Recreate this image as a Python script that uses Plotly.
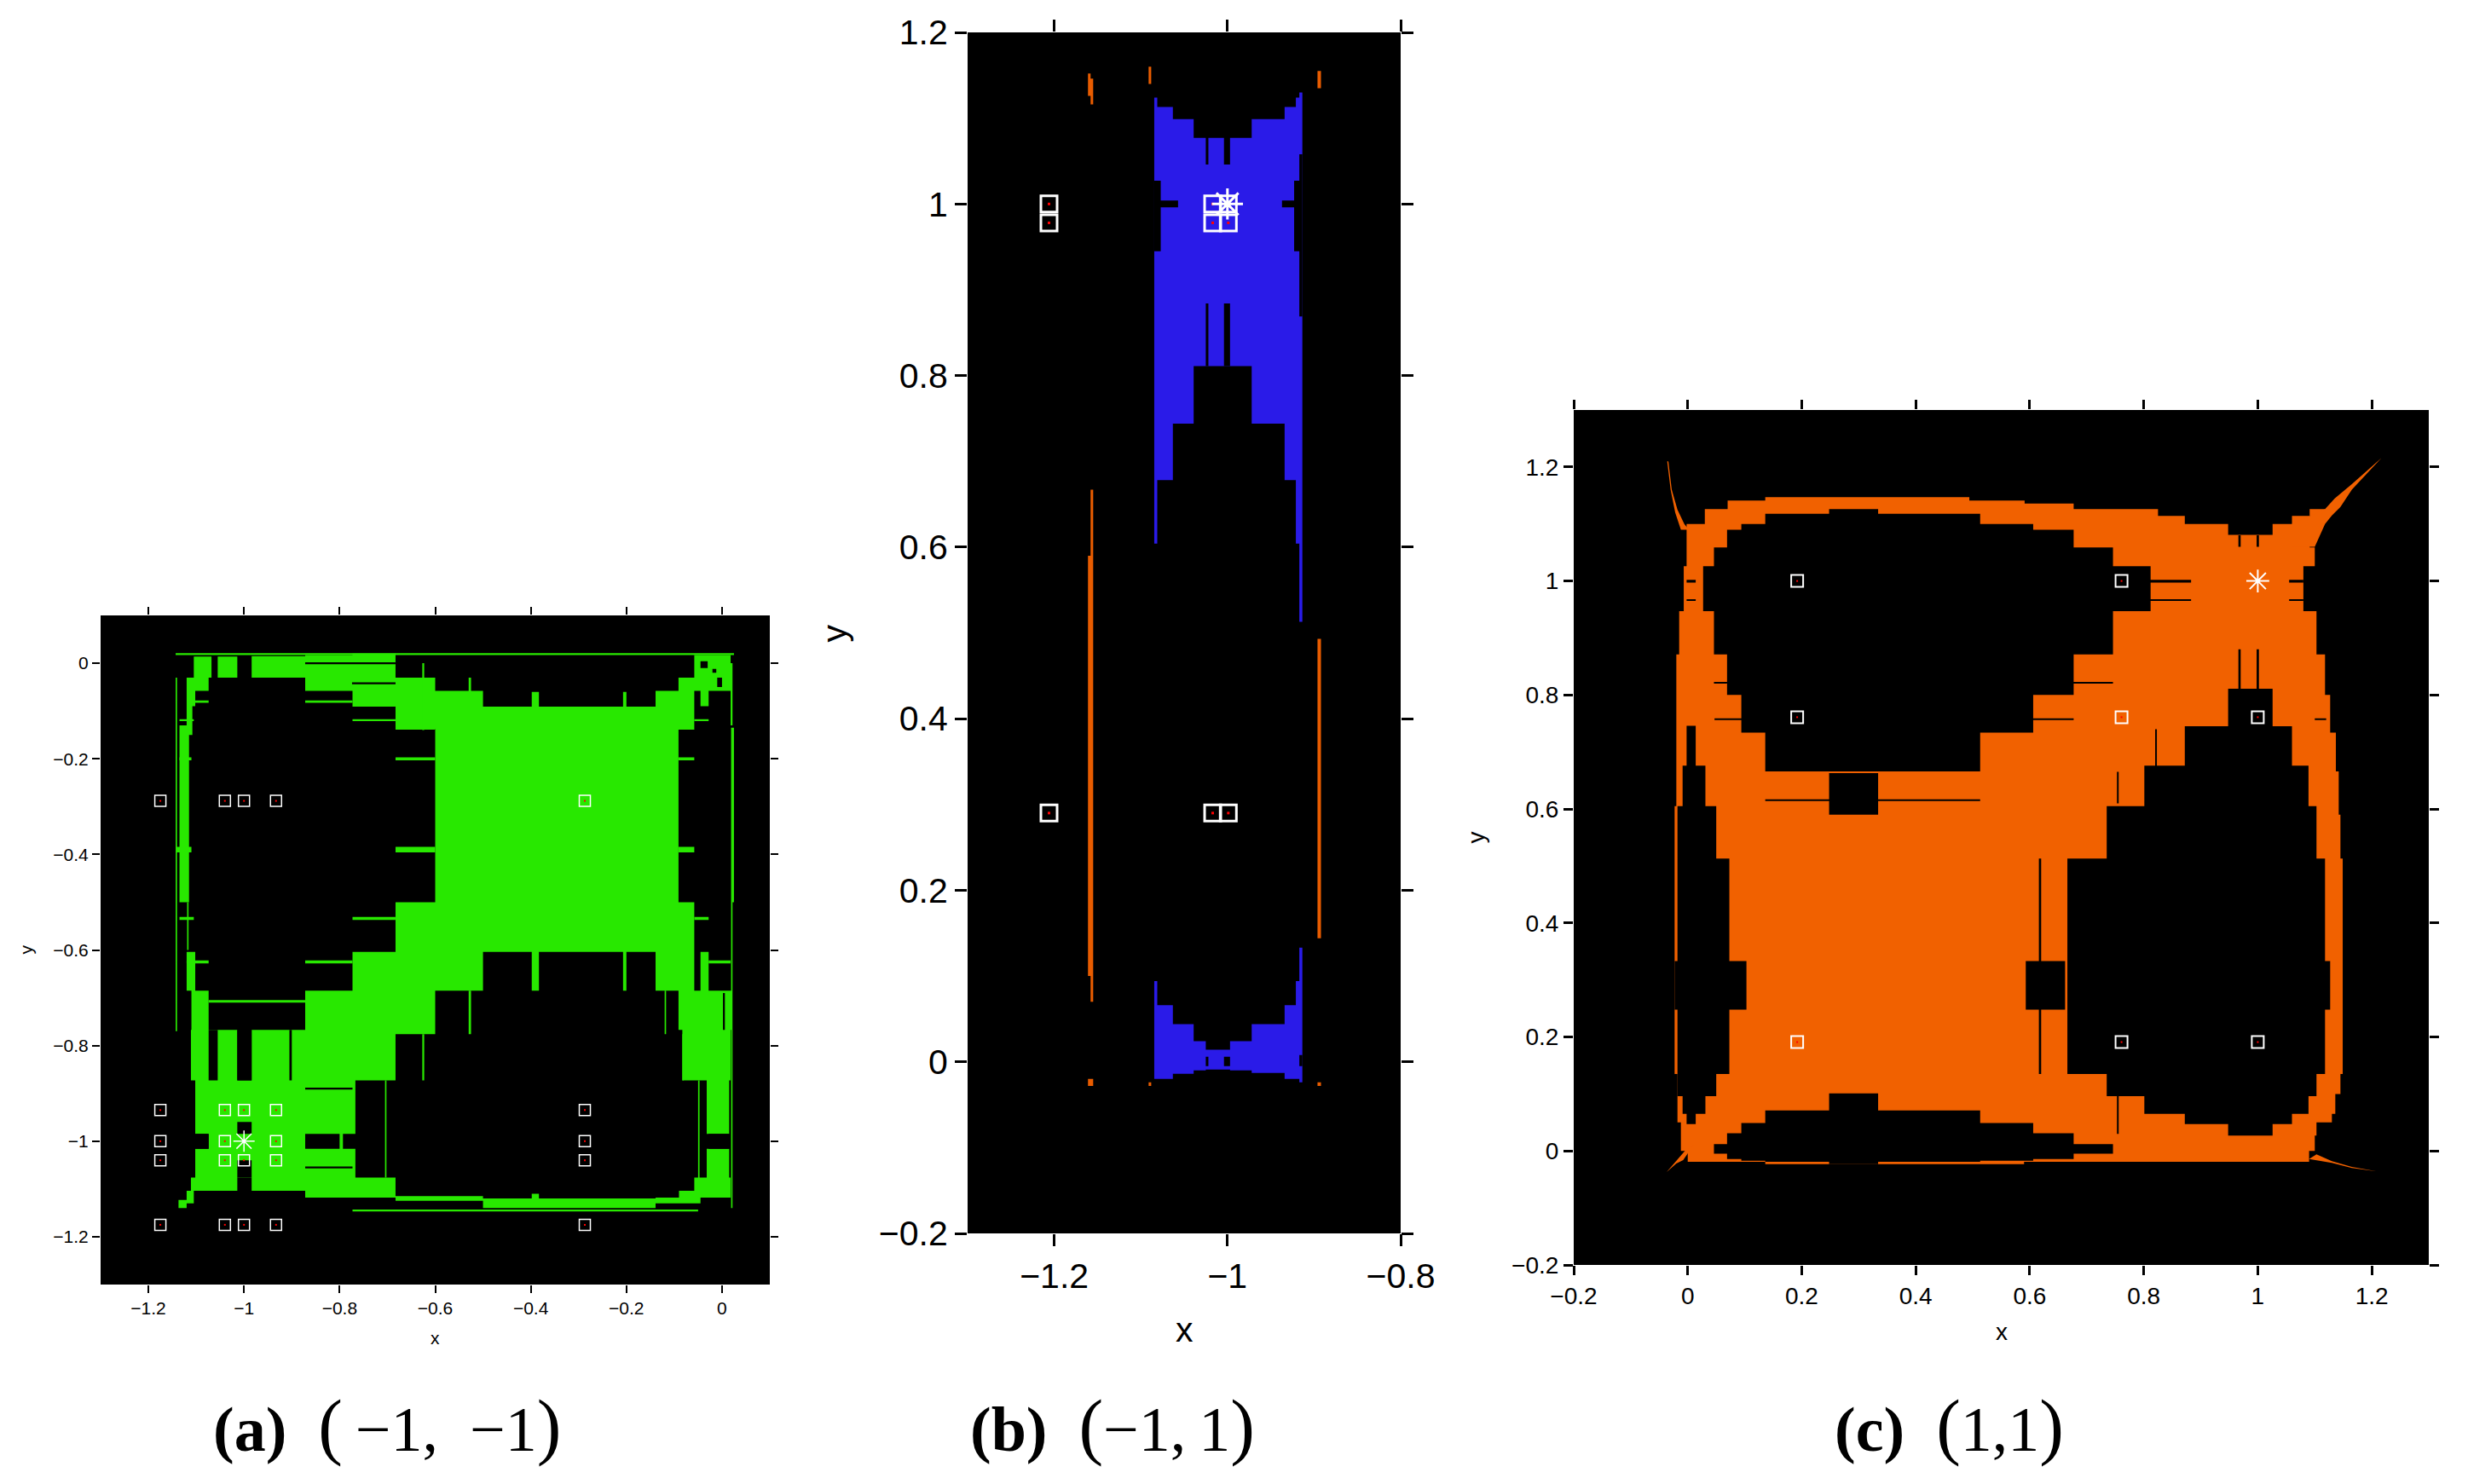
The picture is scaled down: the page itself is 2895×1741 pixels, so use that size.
import plotly.graph_objects as go

GREEN = "rgb(40,232,0)"
BLUE = "rgb(42,27,232)"
ORANGE = "rgb(241,97,0)"
ORANGE_B = "rgb(232,92,0)"

# rectangles are (x0, x1, y0, y1) in data units
a_green = [
    (-0.6, -0.091, -0.604, -0.091), (-0.6, -0.5, -0.091, -0.058), (-0.683, -0.6, -0.139, -0.03),
    (-0.773, -0.683, -0.091, 0.02), (-0.872, -0.773, -0.058, 0.017), (-0.984, -0.872, -0.03, 0.015),
    (-1.055, -1.014, -0.03, 0.014), (-1.105, -1.068, -0.03, 0.014), (-1.12, -1.074, -0.058, -0.03),
    (-1.12, -1.102, -0.09, -0.058), (-0.683, -0.6, -0.604, -0.5), (-0.139, -0.058, -0.139, -0.058),
    (-0.091, -0.045, -0.058, -0.03), (-0.058, 0.018, -0.058, 0.017), (-0.045, -0.028, -0.09, -0.058),
    (-0.398, -0.383, -0.091, -0.06), (-0.207, -0.2, -0.091, -0.06), (-0.091, -0.058, -0.604, -0.5),
    (-0.139, -0.058, -0.685, -0.604), (-0.045, -0.028, -0.685, -0.604), (-0.091, 0.02, -0.767, -0.685),
    (-0.083, 0.018, -0.873, -0.767), (-0.032, 0.015, -0.985, -0.873), (-0.032, 0.015, -1.104, -1.016),
    (-0.058, 0.018, -1.118, -1.076), (-0.09, -0.045, -1.13, -1.104), (-0.5, -0.139, -1.14, -1.12),
    (-0.683, -0.5, -1.125, -1.115), (-0.139, -0.09, -1.13, -1.118), (-0.872, -0.683, -1.118, -1.076),
    (-0.984, -0.872, -1.104, -1.076), (-1.111, -1.014, -1.104, -1.076), (-1.12, -1.105, -1.13, -1.104),
    (-1.137, -1.12, -1.14, -1.123),
    (-1.12, -1.102, -0.685, -0.604), (-1.11, -1.074, -0.767, -0.685), (-1.111, -1.014, -0.873, -0.767),
    (-0.984, -0.683, -0.873, -0.767), (-0.872, -0.6, -0.776, -0.685), (-0.773, -0.5, -0.685, -0.604),
    (-1.102, -0.767, -0.985, -0.873), (-1.074, -0.872, -1.016, -0.985), (-0.8, -0.793, -1.016, -0.985),
    (-1.102, -0.767, -1.076, -1.016), (-1.135, -1.115, -0.5, -0.13), (-1.12, -1.108, -0.15, -0.09),
    (-0.398, -0.383, -0.685, -0.604), (-0.207, -0.2, -0.685, -0.604), (-0.398, -0.383, -1.14, -1.11),
]
a_black = [
    (-1.074, -1.055, -0.873, -0.767), (-1.014, -0.984, -0.873, -0.767), (-0.905, -0.9, -0.873, -0.767),
    (-0.872, -0.773, -0.892, -0.888), (-0.872, -0.773, -1.057, -1.053), (-1.014, -0.984, -0.985, -0.96),
    (-1.014, -0.984, -1.076, -1.04), (-1.102, -1.074, -1.016, -0.985), (-0.028, 0.015, -1.016, -0.985),
    (-0.872, -0.683, -0.002, 0.002), (-0.774, -0.683, -0.044, -0.04), (0.002, 0.006, -0.767, -0.69),
    (-0.045, -0.03, -0.01, 0.004), (-0.01, 0.0, -0.05, -0.03), (-0.02, -0.012, -0.02, -0.012),
]
a_thin = [
    (-1.143, 0.025, 0.017, 0.021), (0.019, 0.025, -0.5, -0.135), (0.019, 0.022, -1.14, -0.5),
    (0.018, 0.022, -0.13, 0.0), (-1.143, -1.14, -0.77, -0.03), (-1.119, -1.116, -0.6, -0.5),
    (-0.872, -0.773, -0.083, -0.078), (-0.773, -0.683, -0.121, -0.117), (-0.683, -0.6, -0.203, -0.197),
    (-0.683, -0.6, -0.396, -0.384), (-0.773, -0.683, -0.537, -0.531), (-0.872, -0.773, -0.628, -0.622),
    (-1.074, -0.872, -0.71, -0.705), (-0.091, -0.058, -0.203, -0.197), (-0.091, -0.058, -0.396, -0.384),
    (-0.058, -0.028, -0.537, -0.531), (-0.028, 0.018, -0.628, -0.622), (-0.058, -0.028, -0.121, -0.117),
    (-1.135, -1.105, -0.121, -0.117), (-1.135, -1.11, -0.203, -0.197), (-1.143, -1.11, -0.396, -0.384),
    (-1.135, -1.105, -0.537, -0.531), (-1.12, -1.074, -0.628, -0.622), (-1.105, -1.074, -0.083, -0.078),
    (-0.773, -0.05, -1.147, -1.143), (-0.705, -0.702, -1.076, -0.873), (-0.627, -0.623, -0.873, -0.776),
    (-0.53, -0.525, -0.776, -0.685), (-0.12, -0.117, -0.776, -0.685), (-0.083, -0.08, -0.873, -0.776),
    (-0.05, -0.047, -1.104, -0.873), (-0.627, -0.623, -0.14, 0.0), (-0.53, -0.525, -0.06, -0.03),
]
a_marks_x = [-1.175, -1.04, -1.0, -0.933, -0.287]
a_marks_y = [-0.288, -0.935, -1.0, -1.04, -1.175]
a_star = (-1.0, -1.0)

b_blue = [
    (-1.0845, -1.081, 0.604, 1.124), (-1.081, -1.063, 0.678, 1.113), (-1.063, -1.039, 0.744, 1.099),
    (-1.039, -0.972, 0.811, 1.077), (-0.972, -0.934, 0.744, 1.099), (-0.934, -0.921, 0.678, 1.113),
    (-0.921, -0.917, 0.604, 1.124), (-0.917, -0.9135, 0.513, 1.13),
    (-1.0845, -1.081, -0.02, 0.094), (-1.081, -1.063, -0.02, 0.066), (-1.063, -1.039, -0.014, 0.044),
    (-1.039, -1.025, -0.01, 0.024), (-1.025, -0.997, -0.009, 0.014), (-0.997, -0.972, -0.01, 0.024),
    (-0.972, -0.934, -0.013, 0.044), (-0.934, -0.921, -0.02, 0.066), (-0.921, -0.917, -0.02, 0.094),
    (-0.917, -0.9135, -0.024, 0.133),
]
b_black = [
    (-1.0845, -1.077, 0.945, 1.027), (-1.0845, -1.057, 0.996, 1.004), (-0.937, -0.921, 0.996, 1.004),
    (-0.923, -0.9135, 0.945, 1.027), (-0.917, -0.9135, 0.869, 0.945), (-0.917, -0.9135, 1.027, 1.058),
    (-1.025, -1.022, 1.046, 1.08), (-1.004, -0.997, 1.046, 1.08), (-1.025, -1.022, 0.811, 0.884),
    (-1.004, -0.997, 0.811, 0.884), (-1.025, -1.022, -0.005, 0.006), (-1.004, -0.997, -0.005, 0.006),
    (-0.917, -0.9135, -0.005, 0.008),
]
b_orange = [
    (-1.158, -1.155, 0.07, 0.667), (-1.161, -1.158, 0.1, 0.59), (-1.161, -1.158, 1.126, 1.152),
    (-1.158, -1.155, 1.116, 1.146), (-1.161, -1.155, -0.028, -0.02), (-1.091, -1.088, 1.14, 1.16),
    (-1.091, -1.088, -0.028, -0.024), (-0.896, -0.892, 0.144, 0.493), (-0.896, -0.892, 1.135, 1.155),
    (-0.896, -0.892, -0.028, -0.024),
]
b_marks_x = [-1.206, -1.017, -0.999]
b_marks_y = [1.0, 0.978, 0.29]
b_star = (-1.0, 1.0)

c_orange = [
    (-0.023, 1.149, 0.135, 0.513), (-0.023, 1.145, 0.513, 0.59), (-0.023, 1.142, 0.59, 0.605),
    (-0.02, 1.142, 0.605, 0.666), (-0.02, 1.137, 0.666, 0.734), (-0.02, 1.127, 0.734, 0.8),
    (-0.02, 1.118, 0.8, 0.871), (-0.015, 1.103, 0.871, 0.947), (-0.007, 1.08, 0.947, 1.026),
    (-0.002, 1.1, 1.026, 1.059), (-0.002, 1.091, 1.059, 1.081), (-0.018, 1.145, 0.1, 0.135),
    (-0.018, 1.136, 0.065, 0.1), (-0.018, 1.13, 0.05, 0.065), (-0.012, 1.103, 0.027, 0.05),
    (-0.012, 1.1, 0.0, 0.027), (0.0, 1.09, -0.019, 0.0), (0.136, 0.59, -0.023, -0.019),
    (-0.002, 0.948, 1.081, 1.1), (1.026, 1.09, 1.081, 1.1), (0.03, 0.872, 1.1, 1.114),
    (1.06, 1.091, 1.1, 1.114), (0.03, 0.825, 1.114, 1.126), (1.091, 1.118, 1.114, 1.126),
    (0.07, 0.677, 1.126, 1.136), (0.07, 0.591, 1.136, 1.141), (0.136, 0.494, 1.141, 1.147),
]
c_horns_x = [
    [1.06, 1.09, 1.118, 1.135, 1.165, 1.217, 1.165, 1.145, 1.13, 1.118, 1.1, 1.06],
    [-0.036, -0.03, -0.022, -0.012, 0.002, -0.006, -0.018, -0.028, -0.034],
    [-0.037, -0.02, -0.008, 0.01, -0.005],
    [1.09, 1.13, 1.165, 1.209, 1.165, 1.13, 1.103],
]
c_horns_y = [
    [1.1, 1.114, 1.126, 1.145, 1.17, 1.216, 1.16, 1.13, 1.115, 1.1, 1.06, 1.06],
    [1.21, 1.16, 1.12, 1.09, 1.09, 1.1, 1.125, 1.16, 1.21],
    [-0.037, -0.022, -0.016, 0.01, 0.0],
    [-0.014, -0.021, -0.03, -0.036, -0.028, -0.018, -0.006],
]
c_black = [
    (0.027, 0.812, 0.947, 1.026), (0.046, 0.746, 0.871, 1.059), (0.069, 0.677, 0.8, 1.09),
    (0.094, 0.606, 0.734, 1.1), (0.136, 0.513, 0.666, 1.118), (0.248, 0.334, 1.118, 1.126),
    (0.248, 0.334, 0.59, 0.663), (0.593, 0.662, 0.248, 0.333),
    (0.666, 1.118, 0.135, 0.513), (0.735, 1.103, 0.096, 0.605), (0.801, 1.089, 0.065, 0.676),
    (0.872, 1.06, 0.047, 0.745), (0.948, 1.026, 0.027, 0.811), (1.118, 1.127, 0.248, 0.333),
    (-0.002, 0.014, 0.047, 0.746), (-0.009, 0.031, 0.065, 0.676), (-0.018, 0.05, 0.096, 0.605),
    (-0.018, 0.073, 0.135, 0.513), (-0.023, 0.103, 0.248, 0.333),
    (0.248, 0.334, -0.023, 0.101), (0.136, 0.513, -0.019, 0.071), (0.094, 0.606, -0.017, 0.049),
    (0.069, 0.677, -0.014, 0.031), (0.046, 0.746, -0.005, 0.012),
    (0.812, 0.883, 0.997, 1.002), (0.812, 0.883, 0.965, 0.968), (1.055, 1.08, 0.997, 1.002),
    (1.055, 1.08, 0.965, 0.968), (0.136, 0.513, 0.614, 0.617), (0.616, 0.62, 0.135, 0.513),
    (0.966, 0.97, 0.81, 0.88), (0.998, 1.002, 0.81, 0.88), (0.966, 0.97, 1.06, 1.08),
    (0.998, 1.002, 1.06, 1.08), (0.677, 0.746, 0.82, 0.823), (0.606, 0.677, 0.756, 0.759),
    (0.753, 0.756, 0.61, 0.665), (0.753, 0.756, 0.03, 0.096), (0.82, 0.823, 0.676, 0.74),
    (0.047, 0.094, 0.756, 0.759), (0.046, 0.069, 0.82, 0.823), (-0.002, 0.014, 0.997, 1.002),
    (-0.002, 0.014, 0.965, 0.968), (1.1, 1.12, 0.756, 0.759),
]
c_marks_x = [0.192, 0.761, 1.0]
c_marks_y = [0.191, 0.761, 1.0]
c_star = (1.0, 1.0)

a_ticks = [-1.2, -1.0, -0.8, -0.6, -0.4, -0.2, 0.0]
b_xticks = [-1.2, -1.0, -0.8]
b_yticks = [-0.2, 0.0, 0.2, 0.4, 0.6, 0.8, 1.0, 1.2]
c_ticks = [-0.2, 0.0, 0.2, 0.4, 0.6, 0.8, 1.0, 1.2]
big = '<span style="font-size:86px">%s</span>'
captions = [
    "<b>(a)</b>\u2002" + big % "(" + "\u2009−1,\u2002−1" + big % ")",
    "<b>(b)</b>\u2002" + big % "(" + "−1,\u20091" + big % ")",
    "<b>(c)</b>\u2002" + big % "(" + "1,1" + big % ")",
]

# the page keeps the browser's 8px body margin, so the figure sits inside it
W, H = 2895, 1741
PAD = 8
FW, FH = W - 2 * PAD, H - 2 * PAD
fig = go.Figure()


def px(x):
    return (x - PAD) / FW


def py(y):
    return 1 - (y - PAD) / FH


def add_rects(rects, color, n):
    xs, ys = [], []
    for x0, x1, y0, y1 in rects:
        xs += [x0, x1, x1, x0, x0, None]
        ys += [y0, y0, y1, y1, y0, None]
    fig.add_trace(go.Scatter(x=xs, y=ys, xaxis=f"x{n}", yaxis=f"y{n}", mode="lines", fill="toself",
                             fillcolor=color, line=dict(width=0), hoverinfo="skip", showlegend=False))


def add_marks(mx, my, star, n, size, lw, dot):
    xs = [x for y in my for x in mx if (x, y) != star]
    ys = [y for y in my for x in mx if (x, y) != star]
    fig.add_trace(go.Scatter(x=xs, y=ys, xaxis=f"x{n}", yaxis=f"y{n}", mode="markers", showlegend=False,
                             marker=dict(symbol="square-open", size=size, color="white", line=dict(width=lw, color="white"))))
    fig.add_trace(go.Scatter(x=xs, y=ys, xaxis=f"x{n}", yaxis=f"y{n}", mode="markers", showlegend=False,
                             marker=dict(symbol="square", size=dot, color="red", line=dict(width=0))))
    fig.add_trace(go.Scatter(x=[star[0]], y=[star[1]], xaxis=f"x{n}", yaxis=f"y{n}", mode="markers", showlegend=False,
                             marker=dict(symbol="asterisk-open", size=size * 1.6, color="white", line=dict(width=lw, color="white"))))


def set_axes(n, box, xr, yr, xticks, yticks, font, ticklen, tickwidth, ylabel_x, xlabel_y):
    left, right, top, bottom = box
    common = dict(showgrid=False, zeroline=False, showline=False, ticks="outside", mirror="ticks",
                  tickcolor="black", ticklen=ticklen, tickwidth=tickwidth, automargin=False,
                  tickfont=dict(family="Liberation Sans", size=font, color="black"))
    fig.update_layout({
        f"xaxis{n}": dict(domain=[px(left), px(right)], range=xr, tickvals=xticks, anchor=f"y{n}", **common),
        f"yaxis{n}": dict(domain=[py(bottom), py(top)], range=yr, tickvals=yticks, anchor=f"x{n}", **common),
    })
    label = dict(xref="paper", yref="paper", showarrow=False, xanchor="center", yanchor="middle",
                 font=dict(family="Liberation Sans", size=font, color="black"))
    fig.add_annotation(text="x", x=px((left + right) / 2), y=py(xlabel_y), **label)
    fig.add_annotation(text="y", x=px(ylabel_x), y=py((top + bottom) / 2), textangle=-90, **label)


boxes = [(118, 903, 722, 1507), (1135, 1643, 38, 1447), (1846, 2849, 481, 1484)]

add_rects(a_green, GREEN, 1)
add_rects(a_black, "black", 1)
add_rects(a_thin, GREEN, 1)
add_marks(a_marks_x, a_marks_y, a_star, 1, 13, 1.5, 2)

add_rects(b_blue, BLUE, 2)
add_rects(b_black, "black", 2)
add_rects(b_orange, ORANGE_B, 2)
add_marks(b_marks_x, b_marks_y, b_star, 2, 19, 3, 3)

add_rects(c_orange, ORANGE, 3)
for hx, hy in zip(c_horns_x, c_horns_y):
    fig.add_trace(go.Scatter(x=hx, y=hy, xaxis="x3", yaxis="y3", mode="lines", fill="toself", fillcolor=ORANGE,
                             line=dict(width=0), hoverinfo="skip", showlegend=False))
add_rects(c_black, "black", 3)
add_marks(c_marks_x, c_marks_y, c_star, 3, 14, 2, 2)

set_axes(1, boxes[0], [-1.3, 0.1], [-1.3, 0.1], a_ticks, a_ticks, 21, 9, 2, 30, 1569)
set_axes(2, boxes[1], [-1.3, -0.8], [-0.2, 1.2], b_xticks, b_yticks, 41, 14, 3, 978, 1560)
set_axes(3, boxes[2], [-0.2, 1.3], [-0.2, 1.3], c_ticks, c_ticks, 28, 11, 2.5, 1731, 1562)

for text, cx in zip(captions, [454, 1305, 2286]):
    fig.add_annotation(text=text, x=px(cx), y=py(1673), xref="paper", yref="paper", showarrow=False,
                       xanchor="center", yanchor="middle",
                       font=dict(family="Liberation Serif", size=74, color="black"))

fig.update_layout(width=FW, height=FH, margin=dict(l=0, r=0, t=0, b=0), paper_bgcolor="white",
                  plot_bgcolor="black", showlegend=False)
fig.write_html("out.html")
